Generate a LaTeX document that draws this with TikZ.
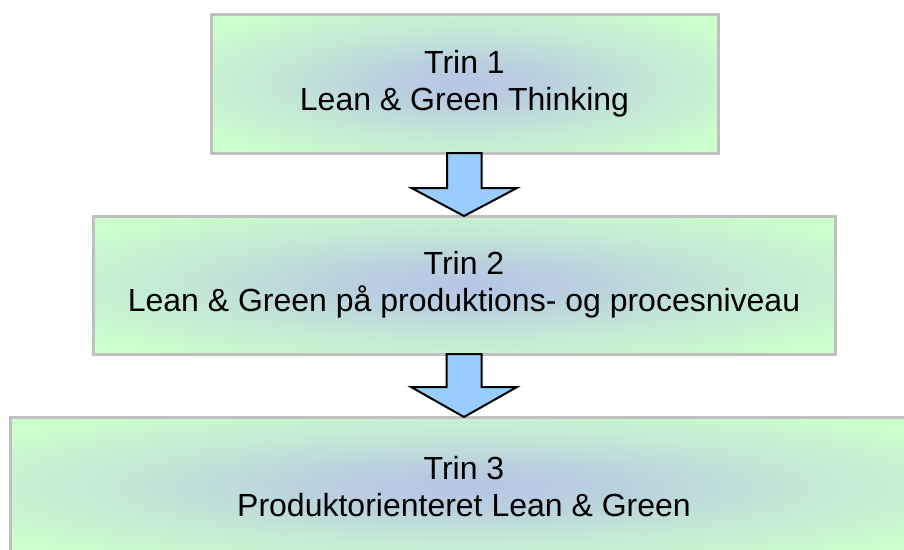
\documentclass[tikz,border=0pt]{standalone}
\usepackage{fontspec}
\setmainfont{Liberation Sans}
\usetikzlibrary{calc}

\definecolor{stepgreen}{RGB}{204,255,204}
\definecolor{stepblue}{RGB}{182,196,228}
\definecolor{arrowblue}{RGB}{153,204,255}
\definecolor{stepborder}{RGB}{192,192,192}

% soft bluish glow in the middle of each step box, fading to pale green
\pgfdeclareradialshading{stepglow}{\pgfpoint{0bp}{0bp}}{%
  color(0bp)=(stepblue);
  color(8bp)=(stepblue!80!stepgreen);
  color(20bp)=(stepblue!35!stepgreen);
  color(32bp)=(stepgreen);
  color(50bp)=(stepgreen)}

\tikzset{
  stepbox/.style={rectangle, draw=stepborder, line width=3pt,
    shading=stepglow, inner sep=0pt, outer sep=0pt, align=center,
    font=\fontsize{32}{37}\selectfont},
  blockarrow/.style={fill=arrowblue, draw=black, line width=2pt,
    line join=miter}
}

\begin{document}
\begin{tikzpicture}[x=1pt, y=-1pt]
  \useasboundingbox (0,0) rectangle (904,549);
  \clip (0,0) rectangle (904,549);

  \node[stepbox, minimum width=507pt, minimum height=139pt] (b1) at (464.5,83.5)
    {Trin 1\\Lean \& Green Thinking};
  \node[stepbox, minimum width=742pt, minimum height=138pt] (b2) at (464,285)
    {Trin 2\\Lean \& Green på produktions- og procesniveau};
  \node[stepbox, minimum width=908pt, minimum height=139pt] (b3) at (464,486.5)
    {Trin 3\\Produktorienteret Lean \& Green};

  % block arrows between the steps
  \draw[blockarrow] ($(b1.south)+(-17.5,0)$) -- ++(0,35) -- ++(-35.5,0)
    -- (b2.north) -- ++(53,-28) -- ++(-35.5,0) -- ++(0,-35) -- cycle;
  \draw[blockarrow] ($(b2.south)+(-17.5,0)$) -- ++(0,33) -- ++(-35.5,0)
    -- (b3.north) -- ++(53,-30) -- ++(-35.5,0) -- ++(0,-33) -- cycle;
\end{tikzpicture}
\end{document}
